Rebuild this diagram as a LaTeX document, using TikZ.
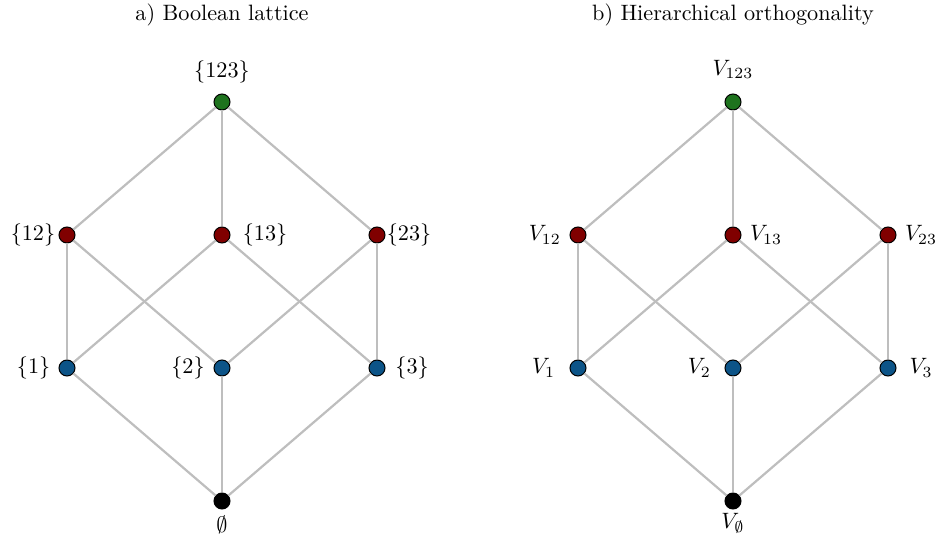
\documentclass[tikz,border=0pt]{standalone}
\usepackage{amsmath}
\usepackage{amssymb}
\usepackage{tikz}

\definecolor{topgreen}{RGB}{30,115,30}
\definecolor{pairred}{RGB}{128,0,0}
\definecolor{singleblue}{RGB}{12,84,136}
\definecolor{edgegray}{RGB}{190,190,190}

\begin{document}
\begin{tikzpicture}[x=0.45pt,y=-0.45pt,
			main node/.style={circle,draw=black,line width=0.45pt,inner sep=0pt,minimum size=7.2pt},
			text node/.style={inner sep=0pt},
			lattice/.style={draw=edgegray,line width=1pt}]
		\useasboundingbox (0,0) rectangle (941,540);

		% a) Boolean lattice
		\node[text node] (ta) at (222,15) {a) Boolean lattice};

		\node[main node,fill=topgreen] (123) at (222,102) {};
		\node[main node,fill=pairred] (12) at (67,235) {};
		\node[main node,fill=pairred] (13) at (222,235) {};
		\node[main node,fill=pairred] (23) at (377,235) {};
		\node[main node,fill=singleblue] (1) at (67,368) {};
		\node[main node,fill=singleblue] (2) at (222,368) {};
		\node[main node,fill=singleblue] (3) at (377,368) {};
		\node[main node,fill=black] (0) at (222,501) {};

		\node[text node] (l123) [above of=123,node distance=13.5pt] {$\{123\}$};
		\node[text node] (l12) [left of=12,node distance=15.3pt] {$\{12\}$};
		\node[text node] (l13) [right of=13,node distance=19.4pt] {$\{13\}$};
		\node[text node] (l23) [right of=23,node distance=14.4pt] {$\{23\}$};
		\node[text node] (l1) [left of=1,node distance=15pt] {$\{1\}$};
		\node[text node] (l2) [left of=2,node distance=15.3pt] {$\{2\}$};
		\node[text node] (l3) [right of=3,node distance=15.8pt] {$\{3\}$};
		\node[text node] (l0) [below of=0,node distance=10.6pt] {$\emptyset$};

		\path[lattice]
		(123) edge (12)
		edge (13)
		edge (23)
		(12) edge (1)
		edge (2)
		(13) edge (1)
		edge (3)
		(23) edge (2)
		edge (3)
		(0) edge (1)
		edge (2)
		edge (3);

		% b) Hierarchical orthogonality
		\node[text node] (tb) at (733,15) {b) Hierarchical orthogonality};

		\node[main node,fill=topgreen] (v123) at (733,102) {};
		\node[main node,fill=pairred] (v12) at (578,235) {};
		\node[main node,fill=pairred] (v13) at (733,235) {};
		\node[main node,fill=pairred] (v23) at (888,235) {};
		\node[main node,fill=singleblue] (v1) at (578,368) {};
		\node[main node,fill=singleblue] (v2) at (733,368) {};
		\node[main node,fill=singleblue] (v3) at (888,368) {};
		\node[main node,fill=black] (v0) at (733,501) {};

		\node[text node] (lv123) [above of=v123,node distance=14.8pt] {$V_{123}$};
		\node[text node] (lv12) [left of=v12,node distance=14.9pt] {$V_{12}$};
		\node[text node] (lv13) [right of=v13,node distance=14.9pt] {$V_{13}$};
		\node[text node] (lv23) [right of=v23,node distance=14.9pt] {$V_{23}$};
		\node[text node] (lv1) [left of=v1,node distance=15.5pt] {$V_1$};
		\node[text node] (lv2) [left of=v2,node distance=15.1pt] {$V_2$};
		\node[text node] (lv3) [right of=v3,node distance=14.9pt] {$V_3$};
		\node[text node] (lv0) [below of=v0,node distance=10.2pt] {$V_{\emptyset}$};

		\path[lattice]
		(v123) edge (v12)
		edge (v13)
		edge (v23)
		(v12) edge (v1)
		edge (v2)
		(v13) edge (v1)
		edge (v3)
		(v23) edge (v2)
		edge (v3)
		(v0) edge (v1)
		edge (v2)
		edge (v3);
	\end{tikzpicture}
\end{document}
